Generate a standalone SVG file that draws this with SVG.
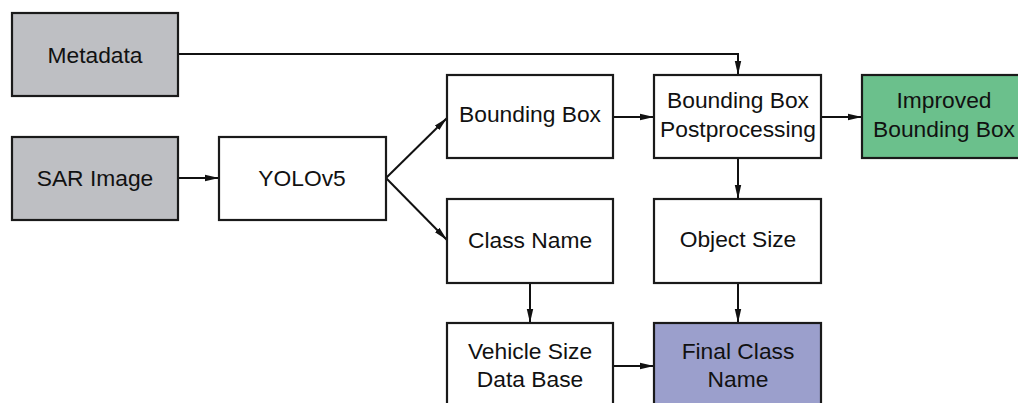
<svg xmlns="http://www.w3.org/2000/svg" width="1018" height="403" viewBox="0 0 1018 403">
<style>
.box{stroke:#1a1a1a;stroke-width:2.2;fill:#fff}
.gray{fill:#bebfc3}
.green{fill:#6bc08c}
.blue{fill:#9b9fcc}
text{font-family:"Liberation Sans",Arial,sans-serif;font-size:22.8px;fill:#111;text-anchor:middle}
.c{stroke:#111;stroke-width:2;fill:none;marker-end:url(#ah)}
</style>
<defs>
<marker id="ah" viewBox="0 0 14 8" refX="14" refY="4" markerWidth="14" markerHeight="8" markerUnits="userSpaceOnUse" orient="auto">
<path d="M0,0.8 L14,4 L0,7.2 z" fill="#111"/>
</marker>
</defs>
<rect width="1018" height="403" fill="#fff"/>
<g id="connectors">
<path class="c" d="M178,54 H738 V75"/>
<path class="c" d="M178,178 H219"/>
<path class="c" d="M386,178 L447,118"/>
<path class="c" d="M386,178 L447,240"/>
<path class="c" d="M613,117 H654"/>
<path class="c" d="M821,117 H862"/>
<path class="c" d="M738,158 V199"/>
<path class="c" d="M530,283 V323"/>
<path class="c" d="M738,283 V323"/>
<path class="c" d="M613,366 H654"/>
</g>
<g id="metadata"><rect class="box gray" x="12" y="13" width="166" height="83"/><text x="95" y="63">Metadata</text></g>
<g id="sar"><rect class="box gray" x="12" y="137" width="166" height="83"/><text x="95" y="186">SAR Image</text></g>
<g id="yolo"><rect class="box" x="219" y="137" width="167" height="83"/><text x="302" y="186">YOLOv5</text></g>
<g id="bbox"><rect class="box" x="447" y="75" width="166" height="83"/><text x="530" y="122">Bounding Box</text></g>
<g id="bbpost"><rect class="box" x="654" y="75" width="167" height="83"/><text x="738" y="108">Bounding Box</text><text x="738" y="137">Postprocessing</text></g>
<g id="improved"><rect class="box green" x="862" y="75" width="166" height="83"/><text x="944" y="108">Improved</text><text x="944" y="137">Bounding Box</text></g>
<g id="classname"><rect class="box" x="447" y="199" width="166" height="84"/><text x="530" y="248">Class Name</text></g>
<g id="objsize"><rect class="box" x="654" y="199" width="167" height="84"/><text x="738" y="247">Object Size</text></g>
<g id="vehicle"><rect class="box" x="447" y="323" width="166" height="84"/><text x="530" y="359">Vehicle Size</text><text x="530" y="387">Data Base</text></g>
<g id="final"><rect class="box blue" x="654" y="323" width="167" height="84"/><text x="738" y="359">Final Class</text><text x="738" y="387">Name</text></g>
</svg>
